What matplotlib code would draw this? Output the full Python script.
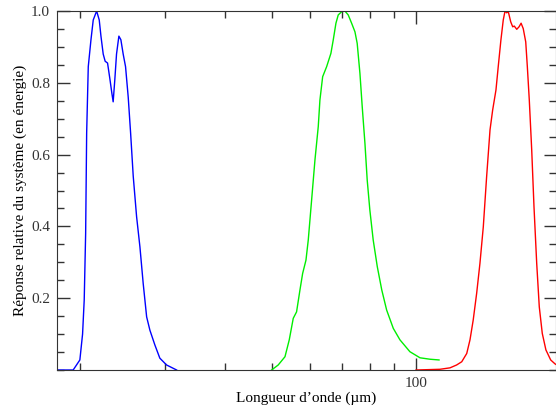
import matplotlib
matplotlib.use("Agg")
import matplotlib.pyplot as plt
from matplotlib.ticker import FixedLocator, NullFormatter, MultipleLocator

# bande bleue (24 microns)
lam_b = [17.9, 19.34, 19.97, 20.23, 20.39, 20.53, 20.63, 20.79, 21.06, 21.29, 21.64,
         21.91, 22.09, 22.33, 22.54, 22.80, 23.06, 23.28, 23.42, 23.61, 23.80, 24.07,
         24.30, 24.57, 24.85, 25.17, 25.46, 25.78, 26.20, 26.62, 27.04, 27.49, 27.92,
         28.59, 29.28, 30.24, 31.73]
rep_b = [0.0, 0.0, 0.028, 0.10, 0.195, 0.38, 0.66, 0.845, 0.92, 0.975, 1.0,
         0.975, 0.93, 0.88, 0.86, 0.855, 0.81, 0.77, 0.747, 0.81, 0.88, 0.93,
         0.92, 0.88, 0.845, 0.76, 0.66, 0.54, 0.427, 0.343, 0.241, 0.148, 0.111,
         0.070, 0.033, 0.014, 0.0]

# bande verte (70 microns)
lam_g = [50.0, 51.6, 53.3, 54.4, 55.45, 56.34, 57.26, 58.0, 58.93, 59.58, 60.55,
         61.52, 62.50, 63.0, 63.83, 65.06, 66.4, 67.14, 68.02, 68.77, 69.9, 71.0,
         72.14, 73.32, 74.5, 75.3, 76.3, 77.14, 78.15, 79.0, 80.0, 81.3, 82.9,
         84.7, 86.7, 89.5, 92.4, 96.9, 101.7, 106.7, 111.4]
rep_g = [0.0, 0.014, 0.037, 0.084, 0.144, 0.162, 0.223, 0.269, 0.306, 0.362, 0.474,
         0.585, 0.678, 0.752, 0.817, 0.845, 0.882, 0.919, 0.966, 0.989, 0.998, 1.0,
         0.989, 0.966, 0.942, 0.91, 0.826, 0.733, 0.631, 0.529, 0.446, 0.362, 0.288,
         0.223, 0.167, 0.116, 0.084, 0.051, 0.034, 0.030, 0.028]

# bande rouge (160 microns)
lam_r = [99.8, 111.9, 117.4, 121.2, 124.2, 127.2, 129.2, 131.2, 133.4, 135.5, 137.7,
         139.9, 142.2, 144.0, 146.3, 147.9, 149.8, 151.5, 152.8, 154.0, 155.2, 157.0,
         158.5, 159.7, 161.6, 163.4, 165.0, 166.7, 168.7, 170.0, 171.6, 173.6, 175.5,
         177.8, 180.0, 182.6, 185.8, 190.1, 194.1, 198.0]
rep_r = [0.0, 0.002, 0.006, 0.014, 0.023, 0.046, 0.084, 0.139, 0.214, 0.297, 0.399,
         0.538, 0.669, 0.724, 0.78, 0.845, 0.919, 0.975, 1.0, 0.995, 0.998, 0.97,
         0.956, 0.958, 0.949, 0.956, 0.966, 0.951, 0.914, 0.845, 0.752, 0.613, 0.455,
         0.297, 0.176, 0.102, 0.056, 0.028, 0.017, 0.01]

plt.rcParams['font.family'] = ['Liberation Serif', 'DejaVu Serif']

fig = plt.figure(figsize=(5.56, 4.08), dpi=100)
ax = fig.add_axes([57/556, 38/408, 499/556, 359/408])

ax.plot(lam_b, rep_b, color='#0000ff', lw=1)
ax.plot(lam_g, rep_g, color='#00ee00', lw=1)
ax.plot(lam_r, rep_r, color='#ff0000', lw=1)

ax.set_xscale('log')
ax.set_xlim(17.9, 195)
ax.set_ylim(0, 1.0)

ax.xaxis.set_major_locator(FixedLocator([100]))
ax.xaxis.set_minor_locator(FixedLocator([20, 30, 40, 50, 60, 70, 80, 90]))
ax.xaxis.set_minor_formatter(NullFormatter())
ax.set_xticklabels(['100'])
ax.yaxis.set_major_locator(FixedLocator([0.2, 0.4, 0.6, 0.8, 1.0]))
ax.yaxis.set_minor_locator(MultipleLocator(0.05))

ax.tick_params(which='both', direction='in', top=True, right=True, labelsize=11, colors='#333333')
ax.tick_params(which='major', length=9, width=1, pad=5)
ax.tick_params(which='minor', length=5, width=1)
for s in ax.spines.values():
    s.set_color('#333333')

ax.set_xlabel('Longueur d’onde (µm)', fontsize=11, labelpad=1)
ax.set_ylabel('Réponse relative du système (en énergie)', fontsize=11, labelpad=3)

fig.savefig('out.png', dpi=100)
